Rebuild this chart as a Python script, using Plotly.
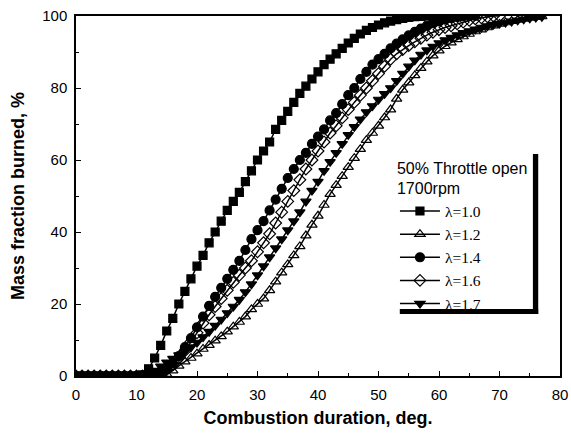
import plotly.graph_objects as go

degrees = [0, 1, 2, 3, 4, 5, 6, 7, 8, 9, 10, 11, 12, 13, 14, 15, 16, 17, 18, 19,
           20, 21, 22, 23, 24, 25, 26, 27, 28, 29, 30, 31, 32, 33, 34, 35, 36, 37, 38, 39,
           40, 41, 42, 43, 44, 45, 46, 47, 48, 49, 50, 51, 52, 53, 54, 55, 56, 57, 58, 59,
           60, 61, 62, 63, 64, 65, 66, 67, 68, 69, 70, 71, 72, 73, 74, 75, 76, 77]

lam_10 = [0, 0, 0, 0, 0, 0, 0, 0, 0, 0, 0, 0.3, 2, 5, 8.5, 12.5, 16, 20, 23.5, 27,
          30.5, 33.5, 37, 40, 43, 46, 48.5, 51, 54, 57, 60, 62.5, 65, 68.5, 71, 73.5, 76, 78.5, 80.5, 82.5,
          84.5, 86.5, 88, 89.5, 91, 92.5, 93.8, 95, 96, 96.8, 97.5, 98.1, 98.6, 99, 99.3, 99.6, 99.8, 99.9, 100, 100,
          100, 100, 100]

lam_12 = [0, 0, 0, 0, 0, 0, 0, 0, 0, 0, 0, 0, 0, 0, 0, 0.5, 1.5, 2.8, 4, 5,
          6.2, 7.5, 8.6, 9.8, 11, 12.3, 13.7, 15, 16.5, 18.5, 20, 21.5, 23.8, 26.2, 28.7, 31, 33.5, 36, 39, 42,
          44.5, 47.5, 50.5, 53, 55.5, 58, 60.5, 63, 65.5, 67.5, 69.5, 71.8, 74, 77, 79.5, 81.5, 83.5, 85.5, 87.3, 89,
          90.4, 91.6, 92.6, 93.5, 94.3, 95, 95.7, 96.2, 96.8, 97.3, 97.8, 98.2, 98.6, 98.9, 99.2, 99.5, 99.7, 99.9]

lam_14 = [0, 0, 0, 0, 0, 0, 0, 0, 0, 0, 0, 0, 0, 0.3, 1, 2, 3.5, 5.5, 8, 10.5,
          13.5, 16.5, 19.5, 22, 24.5, 27, 29.5, 32, 35, 38, 40.5, 43, 46, 49, 52, 55, 57.5, 60, 62, 64.5,
          66.5, 68.5, 71, 73, 75.5, 78, 80, 82.5, 84.5, 86.5, 88, 89.5, 91, 92.3, 93.5, 94.6, 95.6, 96.5, 97.3, 98,
          98.5, 99, 99.4, 99.7, 99.9, 100, 100]

lam_16 = [0, 0, 0, 0, 0, 0, 0, 0, 0, 0, 0, 0, 0, 0, 0.5, 1.8, 3.2, 5, 7, 9.5,
          12, 14.7, 17, 19.3, 21.5, 23.8, 26, 28, 30, 32, 34.5, 37, 39.5, 42.5, 45.5, 48.5, 51.5, 54.5, 57.5, 60,
          62.5, 65, 67.5, 69.5, 71.7, 74, 76, 78, 80, 82, 84, 86, 88, 89.5, 90.7, 91.8, 92.8, 93.8, 94.7, 95.5,
          96.2, 96.8, 97.3, 97.8, 98.3, 98.8, 99.2, 99.5, 99.8, 100, 100]

lam_17 = [0, 0, 0, 0, 0, 0, 0, 0, 0, 0, 0, 0, 0.5, 1.5, 2.7, 3.8, 4.8, 5.8, 6.8, 8,
          9.3, 10.8, 12.3, 14, 15.7, 17.5, 19.3, 21.2, 23.3, 25.5, 28, 30.5, 33, 35.5, 38, 40.5, 43, 45.5, 48.5, 51.5,
          54, 57, 59.5, 62, 64.5, 67, 69.2, 71.3, 73.3, 75, 76.8, 78.4, 80, 82, 84, 86, 87.7, 89.3, 90.5, 91.5,
          92.5, 93.3, 94, 94.7, 95.3, 95.8, 96.3, 96.8, 97.2, 97.6, 97.9, 98.2, 98.5, 98.8, 99.1, 99.4, 99.6, 99.8]

series_names = ["λ=1.0", "λ=1.2", "λ=1.4", "λ=1.6", "λ=1.7"]
series_values = [lam_10, lam_12, lam_14, lam_16, lam_17]
symbols = ["square", "triangle-up-open", "circle", "diamond-open", "triangle-down"]
sizes = [8, 9, 9, 9, 9]

x_ticks = [0, 10, 20, 30, 40, 50, 60, 70, 80]
y_ticks = [0, 20, 40, 60, 80, 100]

fig = go.Figure()
for name, vals, sym, sz in zip(series_names, series_values, symbols, sizes):
    fig.add_trace(go.Scatter(
        x=degrees[:len(vals)], y=vals, name=name, mode="lines+markers",
        line=dict(color="black", width=1.5),
        marker=dict(symbol=sym, size=sz, color="black",
                    line=dict(color="black", width=1.2)),
    ))

# legend box background and thick black shadow on right and bottom
fig.add_shape(type="rect", xref="paper", yref="paper", layer="above",
              x0=0.659, x1=0.944, y0=0.183, y1=0.619,
              fillcolor="white", line=dict(width=0))
fig.add_shape(type="rect", xref="paper", yref="paper", layer="above",
              x0=0.944, x1=0.955, y0=0.172, y1=0.617,
              fillcolor="black", line=dict(width=0))
fig.add_shape(type="rect", xref="paper", yref="paper", layer="above",
              x0=0.669, x1=0.955, y0=0.172, y1=0.186,
              fillcolor="black", line=dict(width=0))

axis_common = dict(
    showline=True, linecolor="black", linewidth=1.5, mirror=True,
    ticks="inside", ticklen=5, tickcolor="black", showgrid=False, zeroline=False,
    automargin=False, ticklabelstandoff=4,
    tickfont=dict(family="Liberation Sans, Arial", size=15, color="black"),
)
fig.update_layout(
    width=571, height=438,
    margin=dict(l=76, r=11, t=16, b=62),
    paper_bgcolor="white", plot_bgcolor="white",
    xaxis=dict(range=[0, 80], tickvals=x_ticks,
               minor=dict(dtick=5, ticklen=3, ticks="inside", tickcolor="black"),
               title=dict(text="<b>Combustion duration, deg.</b>", standoff=10,
                          font=dict(family="Liberation Sans, Arial", size=18, color="black")),
               **axis_common),
    yaxis=dict(range=[0, 100], tickvals=y_ticks,
               minor=dict(dtick=10, ticklen=3, ticks="inside", tickcolor="black"),
               title=dict(text="<b>Mass fraction burned, %</b>", standoff=13,
                          font=dict(family="Liberation Sans, Arial", size=18, color="black")),
               **axis_common),
    legend=dict(
        x=0.659, y=0.62, xanchor="left", yanchor="top",
        bgcolor="rgba(0,0,0,0)", borderwidth=0, itemwidth=40,
        title=dict(text="50% Throttle open<br>1700rpm",
                   font=dict(family="Liberation Sans, Arial", size=16, color="black")),
        font=dict(family="Liberation Serif, Times New Roman", size=15.5, color="black"),
        tracegroupgap=0,
    ),
    showlegend=True,
)

fig.write_html("out.html", config={"displayModeBar": False},
               post_script="document.body.style.margin='0px';")
